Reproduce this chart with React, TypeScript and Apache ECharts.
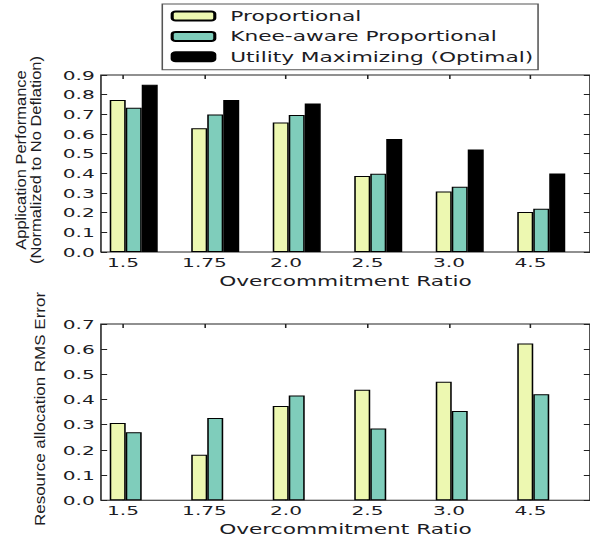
import React, { useEffect, useRef } from "react";
import * as echarts from "echarts";

const categories = ["1.5", "1.75", "2.0", "2.5", "3.0", "4.5"];
const perfProportional = [0.773, 0.629, 0.658, 0.386, 0.308, 0.203];
const perfKneeAware = [0.733, 0.699, 0.697, 0.398, 0.332, 0.22];
const perfUtilityMax = [0.851, 0.773, 0.755, 0.575, 0.521, 0.399];
const rmsProportional = [0.307, 0.181, 0.374, 0.439, 0.471, 0.623];
const rmsKneeAware = [0.27, 0.327, 0.416, 0.285, 0.355, 0.421];
const seriesNames = ["Proportional", "Knee-aware Proportional", "Utility Maximizing (Optimal)"];

const W = 381;
const H = 542;
const S = 590 / W;
const FONT = '"DejaVu Sans", sans-serif';
const TITLE_FONT = '"Liberation Sans", Arial, sans-serif';
const TXT = "#1c1c24";
const LINE = "#222";
const COLORS = ["#edf8b1", "#7fcdbb", "#000000"];

export default function App() {
  const ref = useRef<HTMLDivElement>(null);
  useEffect(() => {
    if (!ref.current) return;
    const chart = echarts.init(ref.current, undefined, { renderer: "svg", width: W, height: H });
    const gridL = 65.2;
    const gridW = 315.8;
    const labelL = 53.1;
    const grids = [
      { left: gridL, top: 75, width: gridW, height: 177, show: true, borderColor: LINE, borderWidth: 1 },
      { left: labelL, top: 75, width: gridW, height: 177, show: false },
      { left: gridL, top: 324, width: gridW, height: 176.3, show: true, borderColor: LINE, borderWidth: 1 },
      { left: labelL, top: 324, width: gridW, height: 176.3, show: false },
    ];
    const mainX = (gi: number) => ({
      type: "category",
      gridIndex: gi,
      data: categories,
      boundaryGap: true,
      axisLine: { show: false },
      axisTick: { show: false },
      axisLabel: { show: false },
      name: "Overcommitment Ratio",
      nameLocation: "middle",
      nameGap: 22,
      nameTextStyle: { fontFamily: FONT, fontSize: 14, color: TXT },
    });
    const labelX = (gi: number, pos: string, labels: boolean) => ({
      type: "category",
      gridIndex: gi,
      position: pos,
      data: categories,
      boundaryGap: true,
      axisLine: { show: false },
      axisTick: { show: true, inside: true, length: 4, alignWithLabel: true, lineStyle: { color: LINE } },
      axisLabel: { show: labels, margin: 4, fontFamily: FONT, fontSize: 13, color: TXT },
    });
    const valY = (gi: number, pos: string, max: number, labels: boolean) => ({
      type: "value",
      gridIndex: gi,
      position: pos,
      min: 0,
      max,
      interval: 0.1,
      axisLine: { show: false },
      splitLine: { show: false },
      axisTick: { show: true, inside: true, length: 4, lineStyle: { color: LINE } },
      axisLabel: {
        show: labels,
        margin: 4,
        fontFamily: FONT,
        fontSize: 13,
        color: TXT,
        formatter: (v: number) => v.toFixed(1),
      },
    });
    const hiddenY = (gi: number) => ({ type: "value", gridIndex: gi, show: false, min: 0, max: 1 });

    const bar = (name: string, data: (number | null)[], color: string, xi: number, yi: number) => ({
      type: "bar",
      name,
      data,
      xAxisIndex: xi,
      yAxisIndex: yi,
      barWidth: 10.33,
      barGap: "0%",
      itemStyle: { color, borderColor: "#000", borderWidth: 1 },
      emphasis: { disabled: true },
    });
    const empty = categories.map(() => null);
    const squeeze = 0.85 / S;

    chart.setOption({
      animation: false,
      backgroundColor: "#ffffff",
      grid: grids,
      xAxis: [
        mainX(0),
        labelX(1, "bottom", true),
        labelX(1, "top", false),
        mainX(2),
        labelX(3, "bottom", true),
        labelX(3, "top", false),
      ],
      yAxis: [
        valY(0, "left", 0.9, true),
        valY(0, "right", 0.9, false),
        hiddenY(1),
        valY(2, "left", 0.7, true),
        valY(2, "right", 0.7, false),
        hiddenY(3),
      ],
      legend: {
        orient: "vertical",
        left: 104.8,
        top: 4,
        itemWidth: 27.5,
        itemHeight: 9,
        itemGap: 6.4,
        padding: [5, 3, 6, 5.4],
        borderColor: "#555",
        borderWidth: 1,
        backgroundColor: "#fff",
        data: seriesNames,
        textStyle: { fontFamily: FONT, fontSize: 14, color: TXT, lineHeight: 14, padding: [0, 0, 0, 5] },
      },
      graphic: [
        {
          type: "text",
          x: 18.6,
          y: 160,
          rotation: Math.PI / 2,
          scaleY: squeeze,
          style: {
            text: "Application Performance\n(Normalized to No Deflation)",
            fontFamily: TITLE_FONT,
            fontSize: 16.5,
            lineHeight: 18,
            fill: TXT,
            align: "center",
            verticalAlign: "middle",
          },
        },
        {
          type: "text",
          x: 25.8,
          y: 409,
          rotation: Math.PI / 2,
          scaleY: squeeze,
          style: {
            text: "Resource allocation RMS Error",
            fontFamily: TITLE_FONT,
            fontSize: 17,
            fill: TXT,
            align: "center",
            verticalAlign: "middle",
          },
        },
      ],
      series: [
        bar(seriesNames[0], perfProportional, COLORS[0], 0, 0),
        bar(seriesNames[1], perfKneeAware, COLORS[1], 0, 0),
        bar(seriesNames[2], perfUtilityMax, COLORS[2], 0, 0),
        bar("_slotA", empty, "#fff", 0, 0),
        bar(seriesNames[0], rmsProportional, COLORS[0], 3, 3),
        bar(seriesNames[1], rmsKneeAware, COLORS[1], 3, 3),
        bar("_slotB", empty, "#fff", 3, 3),
        bar("_slotC", empty, "#fff", 3, 3),
      ],
    });
    return () => chart.dispose();
  }, []);
  return (
    <div
      ref={ref}
      style={{
        position: "absolute",
        left: 0,
        top: 0,
        width: W,
        height: H,
        transform: `scaleX(${S})`,
        transformOrigin: "0 0",
      }}
    />
  );
}
